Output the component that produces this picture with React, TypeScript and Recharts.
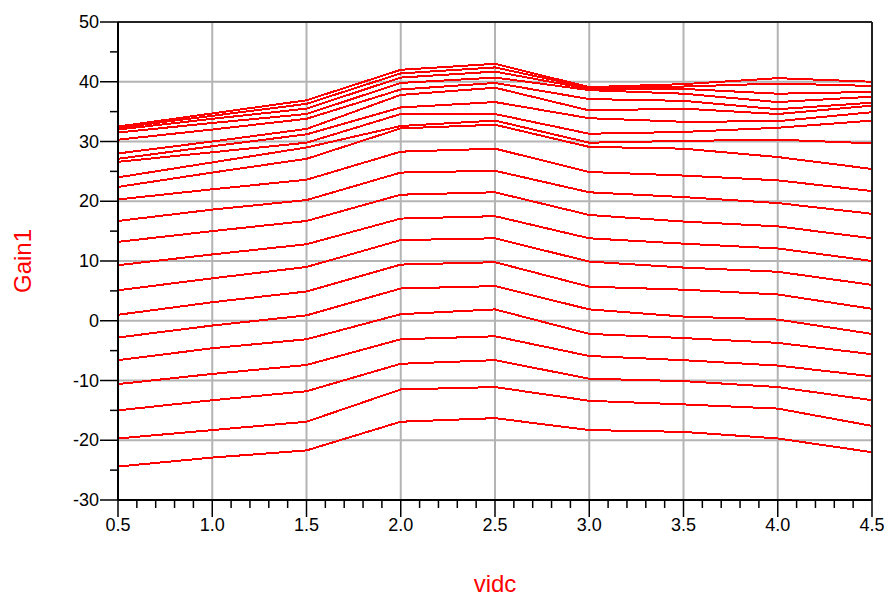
import React from "react";
import { CartesianGrid, Label, Line, LineChart, ReferenceLine, XAxis, YAxis } from "recharts";

// sweep points (vidc)
const vidc = [0.5, 1.0, 1.5, 2.0, 2.5, 3.0, 3.5, 4.0, 4.5];

// Gain1 traces, one per swept input level (low -> high)
const g01 = [-24.4, -22.9, -21.7, -16.9, -16.3, -18.3, -18.6, -19.7, -22.0];
const g02 = [-19.7, -18.3, -16.9, -11.5, -11.1, -13.4, -14.0, -14.7, -17.6];
const g03 = [-15.0, -13.3, -11.8, -7.2, -6.6, -9.7, -10.1, -11.1, -13.3];
const g04 = [-10.6, -8.9, -7.4, -3.1, -2.6, -5.9, -6.6, -7.5, -9.3];
const g05 = [-6.6, -4.6, -3.1, 1.1, 1.9, -2.2, -2.9, -3.7, -5.6];
const g06 = [-2.8, -0.8, 0.9, 5.4, 5.8, 1.9, 0.7, 0.2, -2.2];
const g07 = [1.0, 3.1, 4.9, 9.4, 9.8, 5.7, 5.2, 4.4, 2.0];
const g08 = [5.1, 7.1, 9.0, 13.5, 13.8, 9.9, 8.9, 8.2, 6.0];
const g09 = [9.3, 11.1, 12.8, 17.1, 17.5, 13.8, 12.9, 12.1, 10.0];
const g10 = [13.2, 15.0, 16.7, 21.1, 21.5, 17.7, 16.6, 15.8, 13.8];
const g11 = [16.7, 18.6, 20.2, 24.8, 25.1, 21.5, 20.7, 19.7, 17.9];
const g12 = [20.3, 22.0, 23.6, 28.3, 28.8, 24.9, 24.3, 23.5, 21.7];
const g13 = [22.4, 24.8, 27.1, 32.2, 32.8, 29.1, 28.8, 27.4, 25.4];
const g14 = [24.0, 26.5, 29.0, 32.6, 33.5, 29.8, 30.1, 30.3, 29.7];
const g15 = [26.6, 28.2, 29.8, 34.6, 34.6, 31.3, 31.6, 32.3, 33.5];
const g16 = [27.1, 29.2, 31.2, 35.7, 36.6, 33.9, 33.3, 33.4, 34.9];
const g17 = [28.0, 30.0, 32.1, 37.8, 39.0, 35.2, 35.5, 34.6, 36.0];
const g18 = [30.3, 32.0, 33.8, 38.7, 39.8, 37.1, 36.8, 35.4, 36.5];
const g19 = [31.5, 33.1, 34.6, 39.8, 40.7, 38.6, 38.0, 36.6, 37.5];
const g20 = [32.0, 33.8, 35.5, 40.7, 41.7, 38.8, 38.8, 38.0, 38.3];
const g21 = [32.3, 34.3, 36.3, 41.4, 42.4, 39.0, 39.2, 39.7, 39.3];
const g22 = [32.5, 34.7, 36.9, 42.0, 43.0, 39.1, 39.6, 40.6, 40.0];

const traces = [g01, g02, g03, g04, g05, g06, g07, g08, g09, g10, g11, g12, g13, g14, g15, g16, g17, g18, g19, g20, g21, g22];

// axis ticks
const xMajor = [0.5, 1.0, 1.5, 2.0, 2.5, 3.0, 3.5, 4.0, 4.5];
const yMajor = [-30, -20, -10, 0, 10, 20, 30, 40, 50];
const xAll: number[] = [];
for (let i = 5; i <= 45; i++) xAll.push(i / 10);
const yAll: number[] = [];
for (let v = -30; v <= 50; v += 5) yAll.push(v);

const rows = vidc.map((x, i) => {
  const row: Record<string, number> = { x };
  traces.forEach((t, k) => {
    row[`g${k}`] = t[i];
  });
  return row;
});

const FONT = "'Liberation Sans Narrow', 'Liberation Sans', Arial, sans-serif";
const RED = "#ff0000";

const isMajorX = (v: number) => Math.abs(v * 2 - Math.round(v * 2)) < 1e-6;
const isMajorY = (v: number) => Math.abs(v / 10 - Math.round(v / 10)) < 1e-6;

const XTick = (props: any) => {
  const { x, y, payload } = props;
  const major = isMajorX(payload.value);
  return (
    <g>
      <line x1={x} x2={x} y1={y} y2={y + (major ? 17 : 8)} stroke="#000" strokeWidth={1.5} />
      {major ? (
        <text x={x} y={y + 31} textAnchor="middle" fontSize={18} fontFamily={FONT} fill="#000">
          {payload.value.toFixed(1)}
        </text>
      ) : null}
    </g>
  );
};

const YTick = (props: any) => {
  const { x, y, payload } = props;
  const major = isMajorY(payload.value);
  return (
    <g>
      <line x1={x} x2={x - (major ? 18 : 8)} y1={y} y2={y} stroke="#000" strokeWidth={1.5} />
      {major ? (
        <text x={x - 19} y={y + 6} textAnchor="end" fontSize={18} fontFamily={FONT} fill="#000">
          {payload.value}
        </text>
      ) : null}
    </g>
  );
};

export default function App() {
  return (
    <div style={{ position: "absolute", left: 0, top: 0, width: 892, height: 599, background: "#fff" }}>
      <LineChart width={892} height={599} data={rows} margin={{ top: 22, right: 20, bottom: 0, left: 0 }}>
        <CartesianGrid
          stroke="#b4b4b4"
          strokeWidth={2}
          verticalValues={xMajor}
          horizontalValues={yMajor}
        />
        <XAxis
          dataKey="x"
          type="number"
          domain={[0.5, 4.5]}
          ticks={xAll}
          interval={0}
          height={99}
          tickSize={0}
          tickMargin={0}
          tick={<XTick />}
          axisLine={{ stroke: "#000", strokeWidth: 2 }}
        >
          <Label value="vidc" position="insideBottom" offset={7} fill={RED} fontSize={24} fontFamily={FONT} />
        </XAxis>
        <YAxis
          type="number"
          domain={[-30, 50]}
          ticks={yAll}
          interval={0}
          width={118}
          tickSize={0}
          tickMargin={0}
          tick={<YTick />}
          axisLine={{ stroke: "#000", strokeWidth: 2 }}
        >
          <Label value="Gain1" angle={-90} position="center" dx={-37} fill={RED} fontSize={24} fontFamily={FONT} />
        </YAxis>
        {traces.map((_, k) => (
          <Line
            key={k}
            dataKey={`g${k}`}
            stroke={RED}
            strokeWidth={2}
            dot={false}
            activeDot={false}
            type="linear"
            shapeRendering="crispEdges"
            isAnimationActive={false}
          />
        ))}
        <ReferenceLine y={50} stroke="#222" strokeWidth={2} />
        <ReferenceLine x={4.5} stroke="#222" strokeWidth={2} />
      </LineChart>
    </div>
  );
}
